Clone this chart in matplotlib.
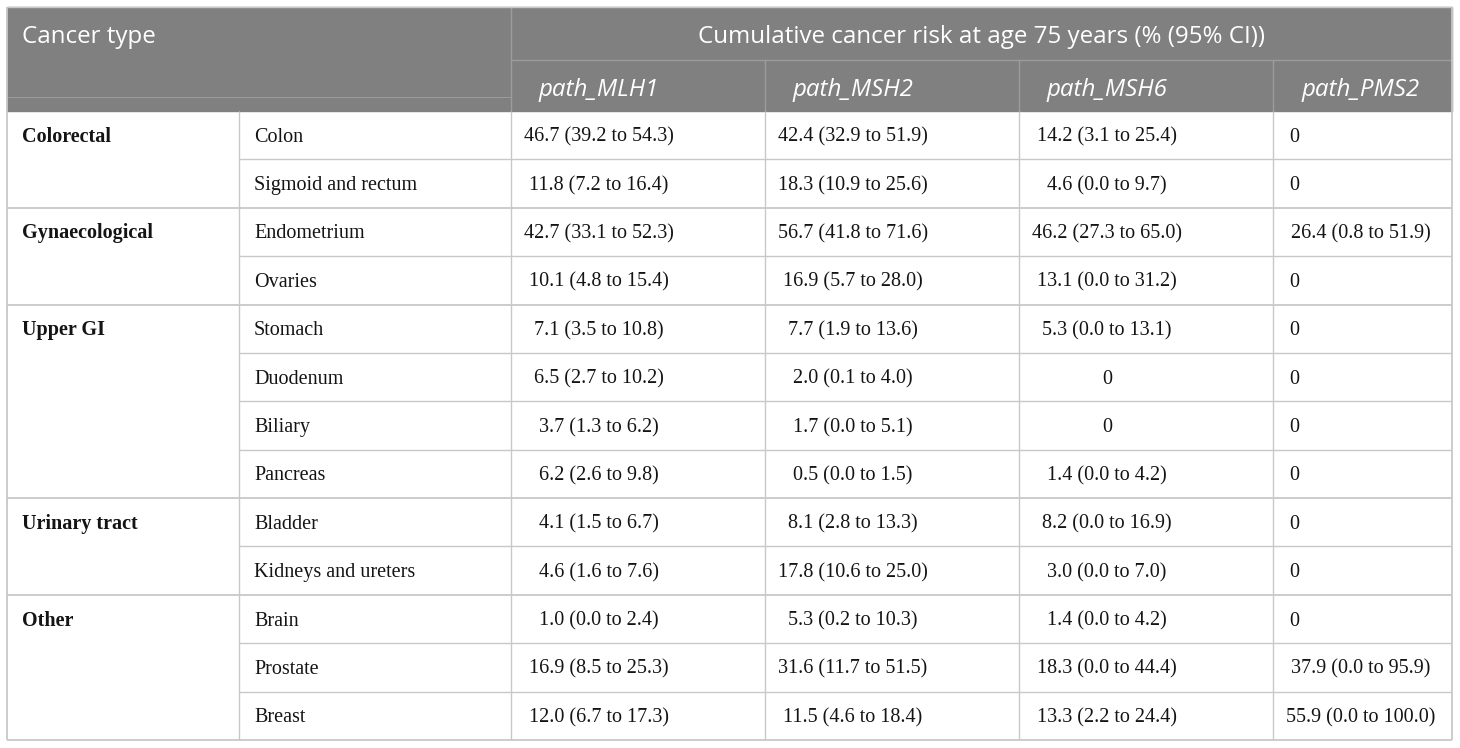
import matplotlib.pyplot as plt
from matplotlib.patches import Rectangle

# table content
groups = ["Colorectal", "Gynaecological", "Upper GI", "Urinary tract", "Other"]
group_sizes = [2, 2, 4, 2, 3]
sites = ["Colon", "Sigmoid and rectum", "Endometrium", "Ovaries", "Stomach",
         "Duodenum", "Biliary", "Pancreas", "Bladder", "Kidneys and ureters",
         "Brain", "Prostate", "Breast"]
genes = ["path_MLH1", "path_MSH2", "path_MSH6", "path_PMS2"]
mlh1 = ["46.7 (39.2 to 54.3)", "11.8 (7.2 to 16.4)", "42.7 (33.1 to 52.3)",
        "10.1 (4.8 to 15.4)", "7.1 (3.5 to 10.8)", "6.5 (2.7 to 10.2)",
        "3.7 (1.3 to 6.2)", "6.2 (2.6 to 9.8)", "4.1 (1.5 to 6.7)",
        "4.6 (1.6 to 7.6)", "1.0 (0.0 to 2.4)", "16.9 (8.5 to 25.3)",
        "12.0 (6.7 to 17.3)"]
msh2 = ["42.4 (32.9 to 51.9)", "18.3 (10.9 to 25.6)", "56.7 (41.8 to 71.6)",
        "16.9 (5.7 to 28.0)", "7.7 (1.9 to 13.6)", "2.0 (0.1 to 4.0)",
        "1.7 (0.0 to 5.1)", "0.5 (0.0 to 1.5)", "8.1 (2.8 to 13.3)",
        "17.8 (10.6 to 25.0)", "5.3 (0.2 to 10.3)", "31.6 (11.7 to 51.5)",
        "11.5 (4.6 to 18.4)"]
msh6 = ["14.2 (3.1 to 25.4)", "4.6 (0.0 to 9.7)", "46.2 (27.3 to 65.0)",
        "13.1 (0.0 to 31.2)", "5.3 (0.0 to 13.1)", "0", "0",
        "1.4 (0.0 to 4.2)", "8.2 (0.0 to 16.9)", "3.0 (0.0 to 7.0)",
        "1.4 (0.0 to 4.2)", "18.3 (0.0 to 44.4)", "13.3 (2.2 to 24.4)"]
pms2 = ["0", "0", "26.4 (0.8 to 51.9)", "0", "0", "0", "0", "0", "0", "0",
        "0", "37.9 (0.0 to 95.9)", "55.9 (0.0 to 100.0)"]
values = [mlh1, msh2, msh6, pms2]

W, H = 1460, 748
fig = plt.figure(figsize=(W / 100, H / 100), dpi=100)
ax = fig.add_axes([0, 0, 1, 1])
ax.set_xlim(0, W)
ax.set_ylim(H, 0)
ax.axis("off")

# layout in pixels
x0, x1 = 7, 1452
cols = [7, 239, 511, 765, 1019, 1273, 1452]
y_top, y_mid, y_head = 7, 60, 111
y_bot = 740
rh = (y_bot - y_head) / len(sites)
cshift = 88  # centre of text block inside each value column
base = 6.5   # baseline offset below row centre

head_bg = "#808080"
head_line = "#9c9c9c"
grid = "#c8c8c8"
txt = "#141414"
lw = 1.0

sans = "Open Sans"
serif = "Liberation Serif"
hs = 17.4
bs = 14.5

# header
ax.add_patch(Rectangle((x0, y_top), x1 - x0, y_head - y_top, color=head_bg, zorder=0))
ax.vlines(cols[2], y_top, y_head, color=head_line, lw=lw)
ax.hlines(y_mid, cols[2], x1, color=head_line, lw=lw)
ax.hlines(97, x0, cols[2], color=head_line, lw=0.7)
ax.vlines(cols[3:6], y_mid, y_head, color=head_line, lw=lw)

ax.text(22, 43, "Cancer type", color="white", fontsize=hs, family=sans, va="baseline")
ax.text((cols[2] + x1) / 2, 43, "Cumulative cancer risk at age 75 years (% (95% CI))",
        color="white", fontsize=hs, family=sans, va="baseline", ha="center")
for i, g in enumerate(genes):
    ax.text(cols[2 + i] + cshift, 96, g, color="white", fontsize=hs, family=sans,
            style="italic", va="baseline", ha="center")

# body
row = 0
for g, n in zip(groups, group_sizes):
    top = y_head + row * rh
    ax.text(22, top + rh / 2 + base, g, fontsize=bs, family=serif, weight="bold",
            va="baseline", color=txt)
    for k in range(n):
        r = row + k
        yb = y_head + r * rh + rh / 2 + base
        ax.text(cols[1] + 15, yb, sites[r], fontsize=bs, family=serif,
                va="baseline", color=txt)
        for j, vals in enumerate(values):
            v = vals[r]
            if j == 3 and v == "0":
                ax.text(cols[2 + j] + 16, yb, v, fontsize=bs, family=serif,
                        va="baseline", color=txt)
            else:
                ax.text(cols[2 + j] + cshift, yb, v, fontsize=bs, family=serif,
                        va="baseline", ha="center", color=txt)
        if k > 0:
            ax.hlines(y_head + r * rh, cols[1], x1, color=grid, lw=lw)
    row += n
    ax.hlines(y_head + row * rh, x0, x1, color=grid, lw=lw * 1.3)

ax.vlines(cols[1:6], y_head, y_bot, color=grid, lw=lw)
ax.vlines([x0, x1], y_top, y_bot, color=grid, lw=lw * 1.3)
ax.hlines(y_top, x0, x1, color=grid, lw=lw)

fig.savefig("out.png", dpi=100, facecolor="white")
